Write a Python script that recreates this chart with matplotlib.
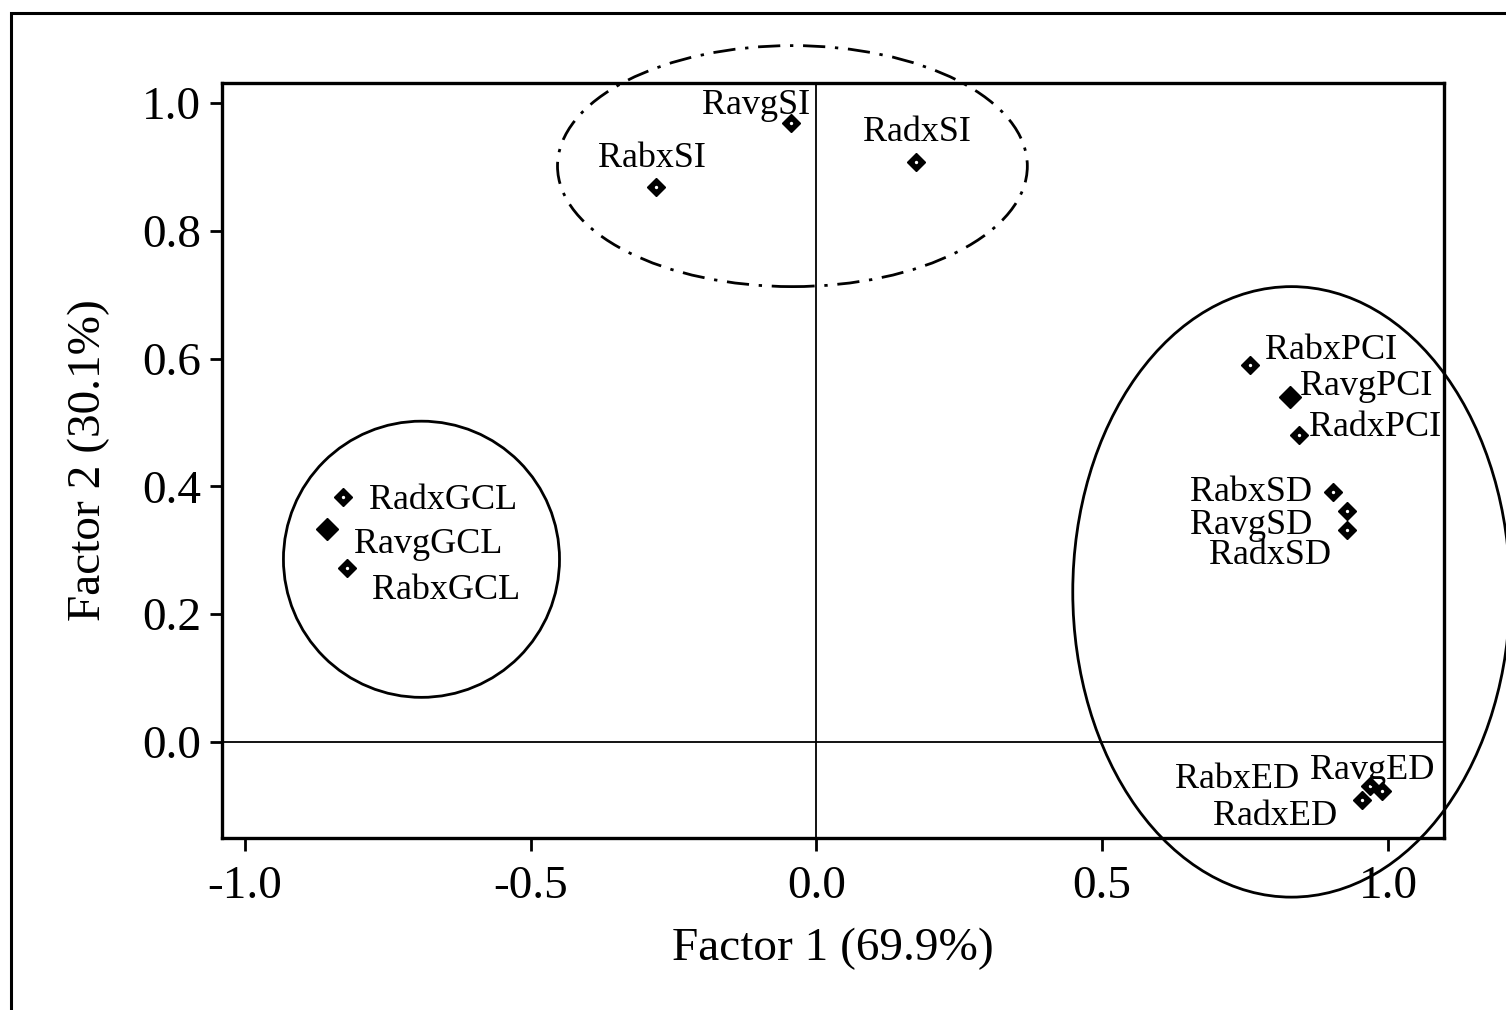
import matplotlib
matplotlib.use("Agg")
import matplotlib.pyplot as plt
from matplotlib.patches import Ellipse, Rectangle

plt.rcParams["font.family"] = ["Liberation Serif", "DejaVu Serif"]

# Factor loadings of each variable
names = ["RavgSI", "RabxSI", "RadxSI",
         "RabxPCI", "RavgPCI", "RadxPCI",
         "RabxSD", "RavgSD", "RadxSD",
         "RadxGCL", "RavgGCL", "RabxGCL",
         "RabxED", "RavgED", "RadxED"]
factor1 = [-0.044, -0.280, 0.175,
           0.758, 0.828, 0.845,
           0.903, 0.929, 0.929,
           -0.828, -0.856, -0.821,
           0.968, 0.989, 0.954]
factor2 = [0.969, 0.869, 0.908,
           0.590, 0.540, 0.480,
           0.391, 0.361, 0.332,
           0.383, 0.333, 0.272,
           -0.069, -0.077, -0.091]
solid = [False, False, False,
         False, True, False,
         False, False, False,
         False, True, False,
         False, False, False]

# label placement: offset in pixels and horizontal alignment
label_offsets = {
    "RavgSI": (-35, 17, "center"), "RabxSI": (-4, 28, "center"),
    "RadxSI": (0, 29, "center"),
    "RabxPCI": (15, 14, "left"), "RavgPCI": (10, 10, "left"),
    "RadxPCI": (10, 8, "left"),
    "RabxSD": (-20, 0, "right"), "RavgSD": (-35, -14, "right"),
    "RadxSD": (-16, -26, "right"),
    "RadxGCL": (26, -3, "left"), "RavgGCL": (27, -15, "left"),
    "RabxGCL": (25, -22, "left"),
    "RabxED": (-70, 7, "right"), "RavgED": (-9, 21, "center"),
    "RadxED": (-24, -16, "right"),
}

x_ticks = [-1.0, -0.5, 0.0, 0.5, 1.0]
y_ticks = [0.0, 0.2, 0.4, 0.6, 0.8, 1.0]

fig = plt.figure(figsize=(15.06, 10.10), dpi=100)
ax = fig.add_axes([222 / 1506, 1 - 838 / 1010, (1444 - 222) / 1506, (838 - 83) / 1010])

ax.set_xlim(-1.040, 1.098)
ax.set_ylim(-0.150, 1.031)

ax.axvline(0, color="black", lw=1.3, zorder=1)
ax.axhline(0, color="black", lw=1.3, zorder=1)

for x, y, s in zip(factor1, factor2, solid):
    if s:
        ax.plot(x, y, marker="D", ms=11, color="black", zorder=3)
    else:
        ax.plot(x, y, marker="D", ms=9.5, color="black", zorder=3)
        ax.plot(x, y, marker="o", ms=2.4, color="white", mew=0, zorder=4)

for name, x, y in zip(names, factor1, factor2):
    dx, dy, ha = label_offsets[name]
    ax.annotate(name, (x, y), xytext=(dx, dy), textcoords="offset pixels",
                ha=ha, va="center", fontsize=26, zorder=5)

# grouping ellipses
ax.add_patch(Ellipse((-0.042, 0.901), 0.822, 0.377, fill=False, lw=2.0,
                     ls=(0, (8, 3.5, 1.2, 3.5)), color="black", clip_on=False))
ax.add_patch(Ellipse((-0.691, 0.286), 0.483, 0.432, fill=False, lw=2.0,
                     color="black"))
ax.add_patch(Ellipse((0.831, 0.235), 0.765, 0.955, fill=False, lw=2.0,
                     color="black", clip_on=False))

ax.set_xticks(x_ticks)
ax.set_xticklabels([f"{v:.1f}" for v in x_ticks])
ax.set_yticks(y_ticks)
ax.set_yticklabels([f"{v:.1f}" for v in y_ticks])
ax.tick_params(direction="out", length=9, width=2.0, labelsize=34, pad=6)
ax.tick_params(axis="x", pad=11)

for sp in ax.spines.values():
    sp.set_linewidth(2.4)

ax.set_xlabel("Factor 1 (69.9%)", fontsize=34, labelpad=14)
ax.set_ylabel("Factor 2 (30.1%)", fontsize=34, labelpad=23)

# frame around the whole figure
fig.patches.append(Rectangle((11 / 1506, -0.05), 1.2, 1 - 13 / 1010 + 0.05,
                             transform=fig.transFigure, fill=False,
                             lw=2.2, color="black"))

fig.savefig("out.png", dpi=100)
